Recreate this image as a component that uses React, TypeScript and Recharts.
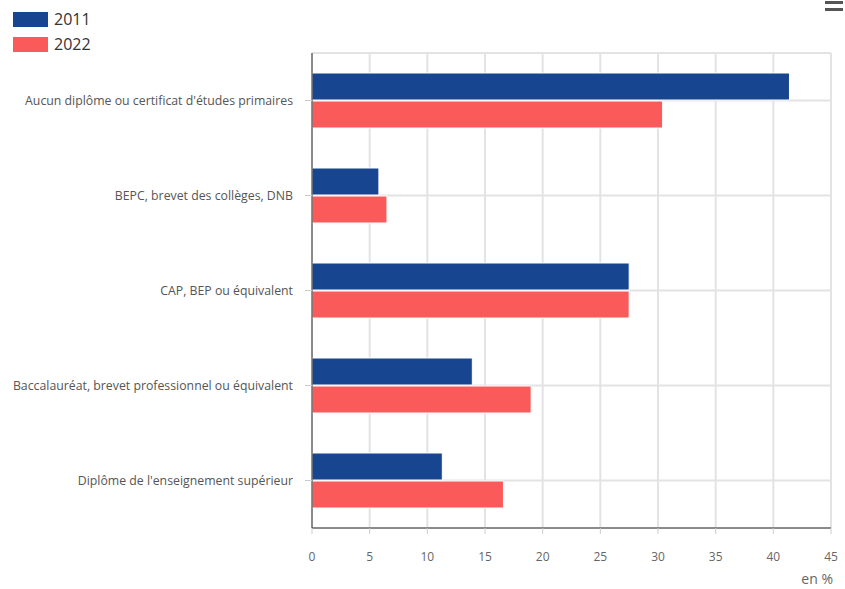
import { BarChart, Bar, XAxis, YAxis, CartesianGrid, Legend } from 'recharts';

const categories = [
  "Aucun diplôme ou certificat d'études primaires",
  'BEPC, brevet des collèges, DNB',
  'CAP, BEP ou équivalent',
  'Baccalauréat, brevet professionnel ou équivalent',
  "Diplôme de l'enseignement supérieur",
];
const values2011 = [41.4, 5.8, 27.5, 13.9, 11.3];
const values2022 = [30.4, 6.5, 27.5, 19.0, 16.6];
const xTicks = [0, 5, 10, 15, 20, 25, 30, 35, 40, 45];

const series = [
  { key: 'y2011', name: '2011', color: '#17458f' },
  { key: 'y2022', name: '2022', color: '#fb5a5a' },
];

const data = categories.map((name, i) => ({
  name,
  y2011: values2011[i],
  y2022: values2022[i],
}));

const font = '"Open Sans", sans-serif';

const LegendBox = () => (
  <div style={{ fontFamily: font }}>
    {series.map((s, i) => (
      <div
        key={s.key}
        style={{ position: 'absolute', left: 13, top: 12 + i * 25, display: 'flex', alignItems: 'center', whiteSpace: 'nowrap' }}
      >
        <span style={{ display: 'inline-block', width: 35, height: 15, background: s.color }} />
        <span style={{ marginLeft: 6, fontSize: 16, color: '#333', lineHeight: '15px' }}>{s.name}</span>
      </div>
    ))}
  </div>
);

const UnitLabel = ({ viewBox }: any) => (
  <text x={viewBox.x + viewBox.width + 2} y={584} textAnchor="end" fill="#666" fontSize={14} fontFamily={font}>
    en %
  </text>
);

export default function App() {
  return (
    <div style={{ position: 'absolute', left: 0, top: 0, width: 845, height: 589, background: '#fff', fontFamily: font }}>
      <div style={{ position: 'absolute', left: 825, top: 1, width: 18, height: 3, background: '#555' }} />
      <div style={{ position: 'absolute', left: 825, top: 8, width: 18, height: 3, background: '#555' }} />
      <BarChart
        width={845}
        height={589}
        data={data}
        layout="vertical"
        margin={{ top: 53, right: 14, bottom: 1, left: 0 }}
        barCategoryGap={20}
        barGap={1}
      >
        <CartesianGrid stroke="#e3e3e3" strokeWidth={2} />
        <XAxis
          type="number"
          domain={[0, 45]}
          ticks={xTicks}
          height={60}
          tick={{ fill: '#666', fontSize: 12, fontFamily: font }}
          tickSize={6}
          tickMargin={18}
          axisLine={{ stroke: '#333' }}
          tickLine={{ stroke: '#ccc' }}
          label={<UnitLabel />}
        />
        <YAxis
          type="category"
          dataKey="name"
          width={312}
          tick={{ fill: '#555', fontSize: 12.3, fontFamily: font }}
          tickSize={7}
          tickMargin={12}
          axisLine={{ stroke: '#333' }}
          tickLine={{ stroke: '#ccc' }}
          interval={0}
        />
        <Legend layout="vertical" align="center" verticalAlign="middle" wrapperStyle={{ left: 0, top: 0, width: 200 }} content={<LegendBox />} />
        {series.map((s) => (
          <Bar key={s.key} dataKey={s.key} name={s.name} fill={s.color} stroke="#ffffff" strokeWidth={1} isAnimationActive={false} />
        ))}
      </BarChart>
    </div>
  );
}
